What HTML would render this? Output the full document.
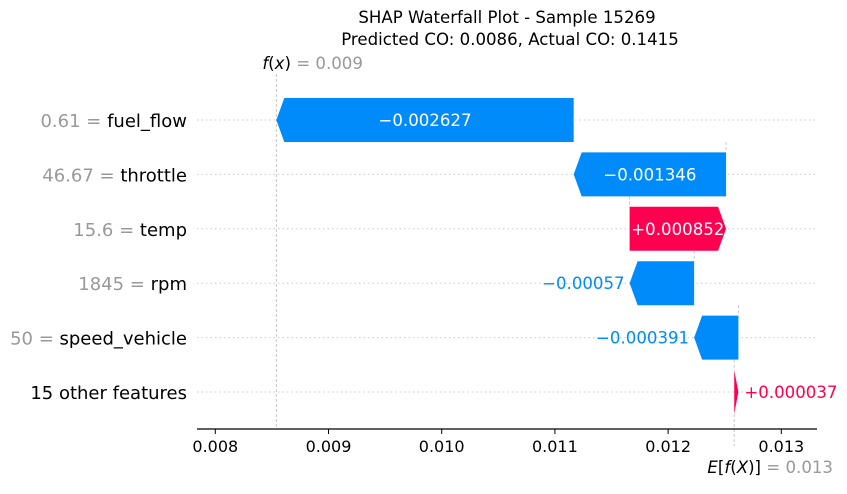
<!DOCTYPE html>
<html><head><meta charset="utf-8"><style>
body{margin:0;background:#fff;}
svg text{font-family:"DejaVu Sans","Liberation Sans",sans-serif;}
</style></head><body>
<svg id="chart" width="847" height="489" xmlns="http://www.w3.org/2000/svg">
<text x="507" y="23" text-anchor="middle" font-size="16.6" fill="#000">SHAP Waterfall Plot - Sample 15269</text>
<text x="510" y="45" text-anchor="middle" font-size="16.6" fill="#000">Predicted CO: 0.0086, Actual CO: 0.1415</text>
<g id="grid"></g>
<g id="bars"></g>
<g id="axis"></g>
</svg>
<script>
const features = ["fuel_flow","throttle","temp","rpm","speed_vehicle","15 other features"];
const featureValues = ["0.61","46.67","15.6","1845","50",""];
const shapValues = [-0.002627,-0.001346,0.000852,-0.00057,-0.000391,0.000037];
const valueLabels = ["\u22120.002627","\u22120.001346","+0.000852","\u22120.00057","\u22120.000391","+0.000037"];
const baseValue = 0.012584;
const fxLabel = "0.009";
const baseLabel = "0.013";
const ticks = [0.008,0.009,0.010,0.011,0.012,0.013];
const tickLabels = ["0.008","0.009","0.010","0.011","0.012","0.013"];

const NS="http://www.w3.org/2000/svg";
const xs=v=>215.3+(v-0.008)*113200;
const rowY=i=>120+i*54.4;
const BLUE="#008bfb",PINK="#ff0051";
function mk(tag,attrs,parent,text){const e=document.createElementNS(NS,tag);for(const k in attrs)e.setAttribute(k,attrs[k]);if(text!==undefined)e.textContent=text;parent.appendChild(e);return e;}
const grid=document.getElementById('grid'),bars=document.getElementById('bars'),axis=document.getElementById('axis');
const n=features.length;
const starts=new Array(n);let cur=baseValue;
for(let i=n-1;i>=0;i--){starts[i]=cur;cur+=shapValues[i];}
const fx=cur;
for(let i=0;i<n;i++){
  const y=rowY(i);
  const g=mk('line',{x1:197,x2:818,y1:y,y2:y,stroke:"#ccc","stroke-width":1,"stroke-dasharray":"1.5,3"},grid);
  
  
  const t=mk('text',{x:187,y:y+7,"text-anchor":"end","font-size":18,fill:"#000"},grid);
  
  
  if(featureValues[i]!==""){mk('tspan',{fill:"#999"},t,featureValues[i]+" = ");}
  mk('tspan',{},t,features[i]);
}
const fl=mk('line',{x1:xs(fx),x2:xs(fx),y1:74,y2:428,stroke:"#bbb","stroke-width":0.8,"stroke-dasharray":"3,2"},grid);


const ft=mk('text',{x:xs(fx)-14,y:69,"font-size":16.6,fill:"#000"},grid);


mk('tspan',{"font-style":"italic"},ft,"f");mk('tspan',{},ft,"(");mk('tspan',{"font-style":"italic"},ft,"x");mk('tspan',{},ft,")");
mk('tspan',{fill:"#999"},ft," = "+fxLabel);
const el=mk('line',{x1:xs(baseValue),x2:xs(baseValue),y1:rowY(n-1)+22,y2:446,stroke:"#bbb","stroke-width":0.8,"stroke-dasharray":"3,2"},grid);


const H=44;
for(let i=0;i<n;i++){
  const y=rowY(i),s=starts[i],e=s+shapValues[i];
  const x0=xs(s),x1=xs(e),len=Math.abs(x1-x0);
  const dir=shapValues[i]>0?1:-1;
  const head=Math.min(8,len);
  const pts=[[x0,y-H/2],[x1-dir*head,y-H/2],[x1,y],[x1-dir*head,y+H/2],[x0,y+H/2]].map(p=>p.join(',')).join(' ');
  const p=mk('polygon',{points:pts,fill:dir>0?PINK:BLUE},bars);
  
  
  if(i>0){
    const c=mk('line',{x1:x0,x2:x0,y1:rowY(i-1)+H/2,y2:y-H/2,stroke:"#bbb","stroke-width":0.8,"stroke-dasharray":"3,2"},bars);
    
    
  }
  const inside=len>95;
  let t;
  if(inside){
    t=mk('text',{x:(x0+x1)/2,y:y+6,"text-anchor":"middle","font-size":16.6,fill:"#fff"},bars,valueLabels[i]);
  }else if(dir<0){
    t=mk('text',{x:x1-5,y:y+6,"text-anchor":"end","font-size":16.6,fill:BLUE},bars,valueLabels[i]);
  }else{
    t=mk('text',{x:x1+6,y:y+6,"text-anchor":"start","font-size":16.6,fill:PINK},bars,valueLabels[i]);
  }
  
  
}
const al=mk('line',{x1:197,x2:817,y1:429,y2:429,stroke:"#000","stroke-width":1.2},axis);


for(let i=0;i<ticks.length;i++){
  const x=xs(ticks[i]);
  const tk=mk('line',{x1:x,x2:x,y1:429,y2:434,stroke:"#000","stroke-width":1},axis);
  
  
  const tl=mk('text',{x:x,y:452,"text-anchor":"middle","font-size":16,fill:"#000"},axis,tickLabels[i]);
  
  
}
const et=mk('text',{x:833,y:473,"text-anchor":"end","font-size":16.6,fill:"#000"},axis);


mk('tspan',{"font-style":"italic"},et,"E");mk('tspan',{},et,"[");mk('tspan',{"font-style":"italic"},et,"f");mk('tspan',{},et,"(");mk('tspan',{"font-style":"italic"},et,"X");mk('tspan',{},et,")]");
mk('tspan',{fill:"#999"},et," = "+baseLabel);
</script>
</body></html>
